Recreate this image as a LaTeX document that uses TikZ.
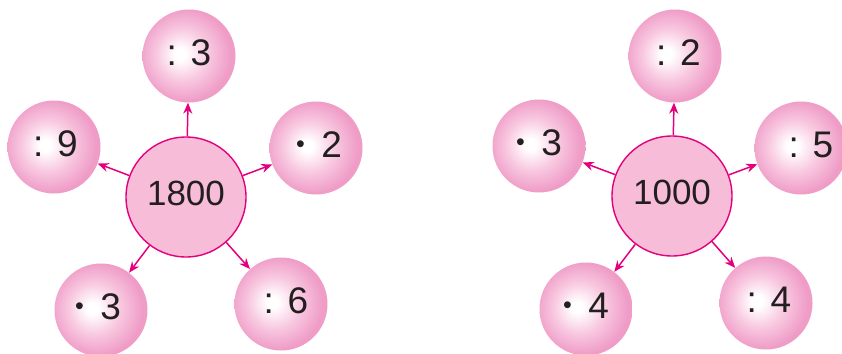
\documentclass[tikz,border=0pt]{standalone}
\usepackage{fontspec}
\setmainfont{Liberation Sans}
\usetikzlibrary{arrows.meta}
\definecolor{mag}{RGB}{228,0,124}
\definecolor{hubfill}{RGB}{246,188,216}
\definecolor{pkmid}{RGB}{248,200,224}
\definecolor{pkedge}{RGB}{239,156,199}
\definecolor{ink}{RGB}{35,31,32}
\pgfdeclareradialshading{pinkball}{\pgfpoint{-5bp}{1bp}}{color(0bp)=(white); color(3bp)=(white); color(14bp)=(pkmid); color(25bp)=(pkedge); color(50bp)=(pkedge)}
\newcommand{\dotop}{\raisebox{4.5pt}{\fontsize{25}{25}\selectfont •}\hspace{0.45em}}
\tikzset{
  hub/.style={circle, draw=mag, line width=1.4pt, fill=hubfill, minimum size=120pt, inner sep=0pt, font=\fontsize{35}{35}\selectfont, text depth=7pt, text=ink},
  ball/.style={circle, shading=pinkball, minimum size=93pt, inner sep=0pt, font=\fontsize{37}{37}\selectfont, text depth=7pt, text=ink},
  link/.style={draw=mag, line width=1.5pt, -{Stealth[length=11pt,width=9pt]}}
}
\begin{document}
\begin{tikzpicture}[x=1pt,y=-1pt]
\useasboundingbox (0,0) rectangle (842,353);
% left group
\node[hub]  (A)  at (186,197) {1800};
\node[ball] (A1) at (189,56)  {: 3};
\node[ball] (A2) at (316,148) {\hspace*{6pt}\dotop 2};
\node[ball] (A3) at (54,147)  {\hspace*{3pt}: 9};
\node[ball] (A4) at (101,310) {\dotop 3\hspace*{6pt}};
\node[ball] (A5) at (281,304) {\hspace*{10pt}: 6};
\foreach \t in {A1,A2,A3,A4,A5} \draw[link] (A) -- (\t);
% right group
\node[hub]  (B)  at (672,196) {1000};
\node[ball] (B1) at (675,56)  {\hspace*{7pt}: 2};
\node[ball] (B2) at (801,148) {\hspace*{20pt}: 5};
\node[ball] (B3) at (539,146) {\dotop 3};
\node[ball] (B4) at (586,309) {\dotop 4};
\node[ball] (B5) at (766,303) {\hspace*{6pt}: 4};
\foreach \t in {B1,B2,B3,B4,B5} \draw[link] (B) -- (\t);
\end{tikzpicture}
\end{document}
